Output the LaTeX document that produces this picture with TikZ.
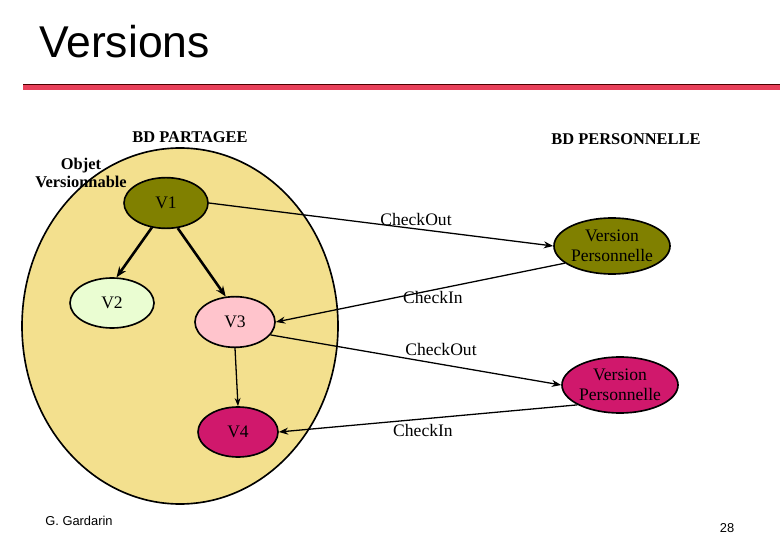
\documentclass[tikz,border=0pt]{standalone}
\usepackage{fontspec}
\setmainfont{Liberation Serif}
\newfontfamily\arialfont{Liberation Sans}
\usetikzlibrary{arrows.meta,shapes.geometric}
\definecolor{sand}{HTML}{F3E08E}
\definecolor{olivev}{HTML}{808000}
\definecolor{palegreen}{HTML}{EAFDD2}
\definecolor{pinkv}{HTML}{FFC4CC}
\definecolor{crimsonv}{HTML}{D0186C}
\definecolor{barred}{HTML}{E8405A}
\tikzset{
  version/.style={ellipse,draw=black,line width=1.4pt,inner sep=0pt,minimum width=2.4cm,minimum height=1.52cm,font=\fontsize{15}{17}\selectfont},
  perso/.style={version,minimum width=3.48cm,minimum height=1.68cm,align=center},
  link/.style={line width=1.1pt,-{Stealth[length=8pt,width=6pt]}},
  tree/.style={line width=2.2pt,-{Stealth[length=9pt,width=7pt]}},
  lbl/.style={font=\fontsize{15}{17}\selectfont},
  titre/.style={font=\bfseries\fontsize{14}{15}\selectfont,align=center},
}
\begin{document}
\begin{tikzpicture}[x=0.03cm,y=-0.03cm]
\useasboundingbox (0,0) rectangle (780,540);
\node[anchor=west,font=\arialfont\fontsize{38}{40}\selectfont] (title) at (35,42) {Versions};
\fill[barred] (23,84) rectangle (780,90);
\draw[black!70!red] (23,84) -- (780,84);

% base partagee
\draw[line width=1.4pt,fill=sand] (180,326) ellipse [x radius=158,y radius=178];
\node[titre] (bdp) at (190,137) {BD PARTAGEE};
\node[titre] (bdperso) at (626,139) {BD PERSONNELLE};
\node[titre] (objet) at (81,173) {Objet\\Versionnable};

\node[version,fill=olivev,minimum width=2.52cm] (v1) at (166,203) {V1};
\node[version,fill=palegreen,minimum width=2.52cm,minimum height=1.5cm] (v2) at (112,303) {V2};
\node[version,fill=pinkv] (v3) at (235,322) {V3};
\node[version,fill=crimsonv,minimum height=1.5cm] (v4) at (238,432) {V4};
\node[perso,fill=olivev] (vp1) at (612,246) {Version\\Personnelle};
\node[perso,fill=crimsonv] (vp2) at (620,385) {Version\\Personnelle};

\draw[tree] (v1.-120) -- (v2.80);
\draw[tree] (v1.-65) -- (v3.110);
\draw[line width=1.1pt,-{Stealth[length=7pt,width=5pt]}] (v3.south) -- (v4.north);
\draw[link] (v1.east) -- (vp1.west);
\draw[link] (vp1.-160) -- (v3.east);
\draw[link] (v3.-20) -- (vp2.west);
\draw[link] (vp2.-155) -- (v4.east);

\node[lbl] (co1) at (416,219) {CheckOut};
\node[lbl] (ci1) at (433,297) {CheckIn};
\node[lbl] (co2) at (441,349) {CheckOut};
\node[lbl] (ci2) at (423,430) {CheckIn};

\node[font=\arialfont\fontsize{11}{12}\selectfont] (auteur) at (79,521) {G. Gardarin};
\node[font=\arialfont\fontsize{11}{12}\selectfont] (page) at (727,528) {28};
\end{tikzpicture}
\end{document}
